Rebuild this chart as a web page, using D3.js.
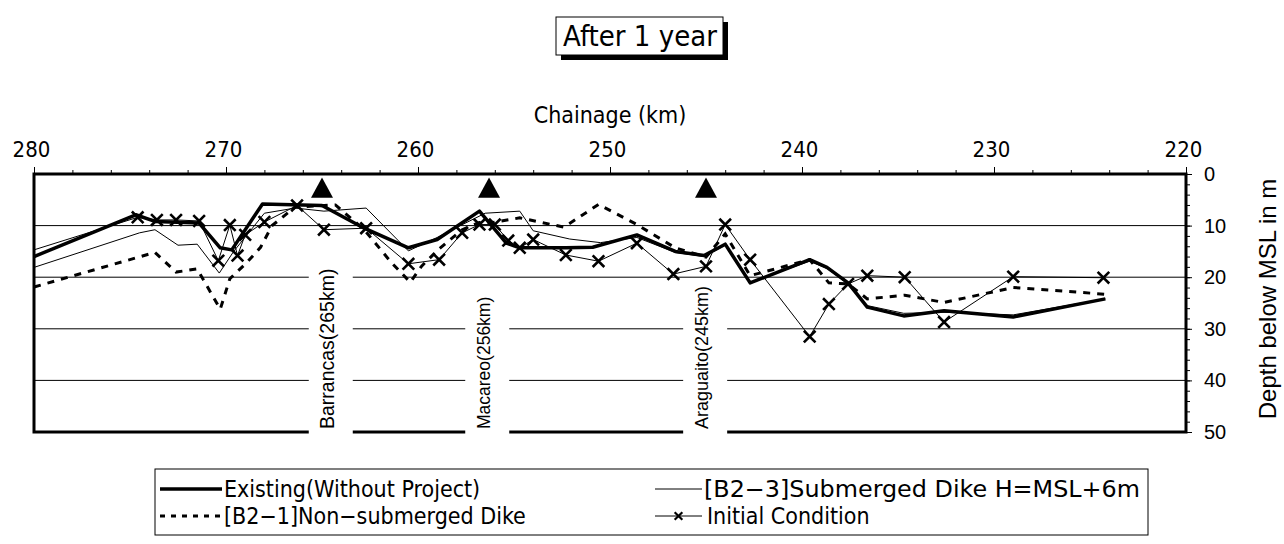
<!DOCTYPE html>
<html>
<head>
<meta charset="utf-8">
<script src="https://cdn.jsdelivr.net/npm/d3@7"></script>
<style>
  body { margin: 0; background: #fff; }
  svg { display: block; }
  .narrow { font-family: "Liberation Sans Narrow", "DejaVu Sans Condensed", "Liberation Sans", sans-serif; }
  .plain { font-family: "Liberation Sans", Arial, sans-serif; }
</style>
</head>
<body>
<div id="chart"></div>
<script>
// data: [chainage km, depth below MSL m]
const existing = [[280,16.0],[274.7,7.9],[273.7,9.2],[271.4,9.5],[270.3,14.3],[269.7,14.7],[268.1,5.8],[265,6.1],
  [262.8,10.5],[260.5,14.3],[259,12.7],[256.8,7.2],[255.4,13.4],[254.7,14.3],[252.3,14.3],[250.9,14.2],[248.6,11.8],
  [246.6,15],[245.1,15.8],[244,13.6],[242.7,21.1],[239.6,16.6],[238.7,18.1],[237.6,21.1],[236.6,25.8],[234.7,27.5],
  [232.6,26.5],[229,27.7],[224.2,24.2]];

const nonSubmerged = [[280,21.9],[273.7,15.2],[272.6,19.0],[271.5,18.4],[270.3,26.2],[269.8,20.3],[268.9,17.1],[268.2,14.2],
  [267.6,10],[266.4,6.4],[264.3,6.0],[262.8,10.8],[261.4,17.1],[260.4,21.0],[259.8,17.8],[258.9,14.5],[257.7,10.8],
  [256.8,9.4],[256.1,9.4],[254.7,8.5],[252.4,10.3],[250.6,5.9],[248.6,9.8],[246.6,14.3],[245,16.1],[244,11.6],
  [242.7,19.7],[239.6,16.6],[238.6,21.1],[237.6,21.3],[236.6,24.2],[234.65,23.5],[232.6,24.9],[229,22],[224.2,23.3]];

const submerged = [[280,18.1],[274.5,11.4],[273.7,10.8],[272.5,13.8],[271.5,13.6],[270.35,19.2],[269.6,15.0],[268,7.6],
  [266.4,6.6],[264.9,7.2],[262.7,6.6],[260.5,14.9],[259,12.3],[257.9,10.2],[256.5,7.6],[254.7,7.2],[254.0,11.0],
  [252.1,12.6],[250.5,13.3],[248.6,12.3],[246.6,15.2],[245.1,16.0],[244,13.8],[242.7,21.0],[239.6,16.9],[238.7,18.3],
  [237.6,21.3],[236.6,25.5],[234.7,27.0],[232.6,26.8],[229,27.3],[224.2,24.2]];

const initial = [[280,14.7],[274.6,8.4],[273.6,8.9],[272.6,8.9],[271.4,9.1],[270.4,16.8],[269.8,9.9],[269.4,15.8],
  [269.0,11.8],[268.0,9.3],[266.3,6.1],[264.9,10.8],[262.7,10.5],[260.5,17.4],[258.9,16.6],[257.7,11.4],[256.8,9.8],
  [256.0,9.8],[255.3,12.9],[254.7,14.3],[254.0,12.7],[252.3,15.7],[250.6,16.9],[248.6,13.4],[246.7,19.4],[245,17.9],
  [244,9.8],[242.7,16.6],[239.6,31.5],[238.6,25.2],[237.6,21.3],[236.6,19.7],[234.65,20],[232.6,28.7],[229,19.9],
  [224.3,20.1]];

const stationNames = ["Barrancas(265km)", "Macareo(256km)", "Araguaito(245km)"];
const stationKm = [265, 256.3, 245];
const stationLabelKm = [264.7, 256.55, 245.2];

const xTicks = [280, 270, 260, 250, 240, 230, 220];
const yTicks = [0, 10, 20, 30, 40, 50];
const gridDepths = [10, 20, 30, 40];

const legendNames = ["Existing(Without Project)", "[B2\u22123]Submerged Dike H=MSL+6m",
                     "[B2\u22121]Non\u2212submerged Dike", "Initial Condition"];

// layout
const W = 1284, H = 544;
const plot = { left: 34, right: 1186, top: 174, bottom: 432 };

const svg = d3.select("#chart").append("svg").attr("width", W).attr("height", H);

const x = d3.scaleLinear().domain([280, 220]).range([plot.left, plot.right]);
const y = d3.scaleLinear().domain([0, 50]).range([plot.top, plot.bottom]);

// title box with shadow
const tg = svg.append("g");
tg.append("rect").attr("x", 561).attr("y", 22).attr("width", 167).attr("height", 38).attr("fill", "#000");
tg.append("rect").attr("x", 556).attr("y", 17).attr("width", 167).attr("height", 38)
  .attr("fill", "#fff").attr("stroke", "#000").attr("stroke-width", 1);
tg.append("text").attr("class", "narrow").attr("x", 640).attr("y", 46)
  .attr("text-anchor", "middle").style("font-size", "29px").text("After 1 year");

// axis title
svg.append("text").attr("class", "narrow").attr("x", 610).attr("y", 123)
  .attr("text-anchor", "middle").style("font-size", "23px").text("Chainage (km)");

// gridlines
svg.append("g").selectAll("line").data(gridDepths).join("line")
  .attr("x1", plot.left).attr("x2", plot.right)
  .attr("y1", d => y(d)).attr("y2", d => y(d))
  .attr("stroke", "#000").attr("stroke-width", 1);

// top axis: minor ticks every 2 km, major every 10 km
const topMinor = d3.axisTop(x).tickValues(d3.range(280, 219, -2)).tickSize(4).tickFormat("");
const topMajor = d3.axisTop(x).tickValues(xTicks).tickSize(7).tickPadding(10).tickFormat(d3.format("d"));
svg.append("g").attr("transform", `translate(0,${plot.top})`).call(topMinor)
  .call(g => g.select(".domain").remove());
svg.append("g").attr("transform", `translate(0,${plot.top})`).call(topMajor)
  .call(g => g.select(".domain").remove())
  .call(g => g.selectAll("text").attr("class", "narrow").attr("dx", -3)
    .style("font-size", "22px").attr("fill", "#000"));

// right axis
const rightMinor = d3.axisRight(y).tickValues(d3.range(0, 51, 2)).tickSize(4).tickFormat("");
const rightMajor = d3.axisRight(y).tickValues(yTicks).tickSize(6).tickPadding(12);
svg.append("g").attr("transform", `translate(${plot.right},0)`).call(rightMinor)
  .call(g => g.select(".domain").remove());
svg.append("g").attr("transform", `translate(${plot.right},0)`).call(rightMajor)
  .call(g => g.select(".domain").remove())
  .call(g => g.selectAll("text").attr("class", "plain").style("font-size", "20px").attr("fill", "#000"));

svg.append("text").attr("class", "plain")
  .attr("transform", `translate(1276,${(plot.top + plot.bottom) / 2 - 4}) rotate(-90)`)
  .attr("text-anchor", "middle").style("font-size", "24px").text("Depth below MSL in m");

// series
const line = d3.line().x(d => x(d[0])).y(d => y(d[1]));
const series = svg.append("g");

series.append("path").datum(submerged).attr("d", line)
  .attr("fill", "none").attr("stroke", "#000").attr("stroke-width", 1);
series.append("path").datum(initial).attr("d", line)
  .attr("fill", "none").attr("stroke", "#000").attr("stroke-width", 1);
series.append("path").datum(nonSubmerged).attr("d", line)
  .attr("fill", "none").attr("stroke", "#000").attr("stroke-width", 3).attr("stroke-dasharray", "7,7");
series.append("path").datum(existing).attr("d", line)
  .attr("fill", "none").attr("stroke", "#000").attr("stroke-width", 3.5).attr("stroke-linejoin", "round");

const cross = d3.symbol().type(d3.symbolX).size(90);
series.selectAll(".mk").data(initial.filter(d => d[0] < 280)).join("path")
  .attr("class", "mk")
  .attr("transform", d => `translate(${x(d[0])},${y(d[1])})`)
  .attr("d", cross).attr("fill", "none").attr("stroke", "#000").attr("stroke-width", 2.6);

// station triangles
svg.append("g").selectAll("path").data(stationKm).join("path")
  .attr("d", d => {
    const cx = x(d), top = y(0.7), bot = y(4.6);
    return `M${cx},${top}L${cx + 11},${bot}L${cx - 11},${bot}Z`;
  })
  .attr("fill", "#000");

// plot border
svg.append("rect").attr("x", plot.left).attr("y", plot.top)
  .attr("width", plot.right - plot.left).attr("height", plot.bottom - plot.top)
  .attr("fill", "none").attr("stroke", "#000").attr("stroke-width", 3);

// vertical station labels on white boxes
const fontSizes = [19.5, 17.5, 18];
const sl = svg.append("g");
stationNames.forEach((name, i) => {
  const cx = x(stationLabelKm[i]);
  const t = sl.append("text").attr("class", "plain")
    .attr("transform", `translate(${cx + 6},${plot.bottom - 3}) rotate(-90)`)
    .style("font-size", fontSizes[i] + "px").text(name);
  const len = t.node().getComputedTextLength();
  sl.insert("rect", "text")
    .attr("x", cx - 19).attr("y", plot.bottom - 3 - len - 7)
    .attr("width", 44).attr("height", len + 14)
    .attr("fill", "#fff");
});

// legend (two columns, sample line then label)
const lg = svg.append("g");
lg.append("rect").attr("x", 155).attr("y", 469).attr("width", 993).attr("height", 66)
  .attr("fill", "#fff").attr("stroke", "#000").attr("stroke-width", 1);
const rows = [489, 516];
const cols = [{ l0: 160, l1: 222 }, { l0: 655, l1: 702 }];
const legendStyles = [
  { w: 3.5, dash: null, mark: false, len: null },
  { w: 1, dash: null, mark: false, len: 436 },
  { w: 3, dash: "5,6", mark: false, len: null },
  { w: 1, dash: null, mark: true, len: null }
];
legendNames.forEach((name, i) => {
  const c = cols[i % 2], ry = rows[Math.floor(i / 2)], s = legendStyles[i];
  lg.append("line").attr("x1", c.l0).attr("x2", c.l1).attr("y1", ry).attr("y2", ry)
    .attr("stroke", "#000").attr("stroke-width", s.w).attr("stroke-dasharray", s.dash);
  if (s.mark) {
    lg.append("path").attr("transform", `translate(${(c.l0 + c.l1) / 2},${ry})`)
      .attr("d", d3.symbol().type(d3.symbolX).size(40))
      .attr("fill", "none").attr("stroke", "#000").attr("stroke-width", 2.2);
  }
  const t = lg.append("text").attr("class", "narrow").attr("x", c.l1 + (s.mark ? 5 : 2)).attr("y", ry + 8)
    .style("font-size", "23px").text(name);
  if (s.len) t.attr("textLength", s.len).attr("lengthAdjust", "spacingAndGlyphs");
});
</script>
</body>
</html>
